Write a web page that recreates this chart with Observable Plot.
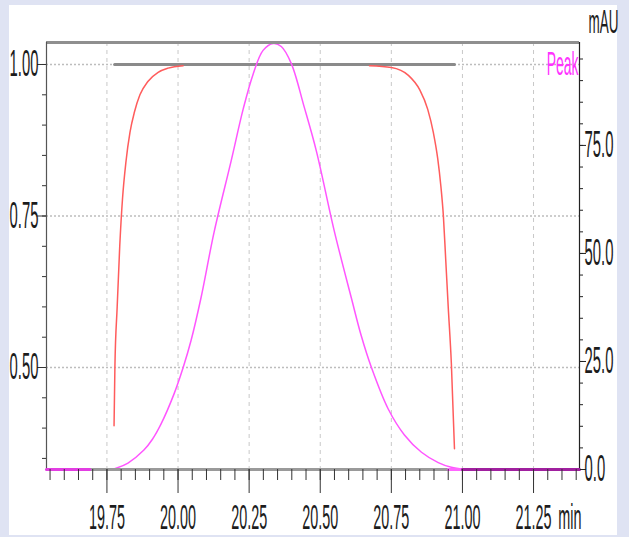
<!DOCTYPE html>
<html><head><meta charset="utf-8">
<script src="https://cdn.jsdelivr.net/npm/d3@7"></script>
<script src="https://cdn.jsdelivr.net/npm/@observablehq/plot@0.6"></script>
<style>
html,body{margin:0;padding:0;background:#dfe3f3;width:629px;height:537px;overflow:hidden}
#panel{position:absolute;left:9px;top:5px;width:608px;height:530px;background:#fff}
#chart{position:absolute;left:0;top:0}
</style></head><body><div id="panel"></div><div id="chart"></div>
<script>
// ---- axes / ticks ----
const xDomain = [19.5375, 21.4116];          // min
const yDomain = [0.3317, 1.0363];            // left axis (ratio)
const mauToLeft = 0.00713;                   // left-axis units per mAU
const xMajor = [19.75, 20.00, 20.25, 20.50, 20.75, 21.00, 21.25];
const xMajorLabels = ["19.75", "20.00", "20.25", "20.50", "20.75", "21.00", "21.25"];
const xMinor = d3.range(0, 38).map(i => +(19.55 + i * 0.05).toFixed(2));
const yMajor = [0.50, 0.75, 1.00];
const yMajorLabels = ["0.50", "0.75", "1.00"];
const yMinor = d3.range(0, 14).map(i => +(0.35 + i * 0.05).toFixed(2));
const mauMajor = [0, 25, 50, 75];
const mauMajorLabels = ["0.0", "25.0", "50.0", "75.0"];
const mauMinor = d3.range(0, 20).map(i => i * 5);

// ---- data ----
// red ratio trace (left axis), two fragments
const redLeftT = [19.775, 19.778, 19.786, 19.795, 19.805, 19.817, 19.831, 19.847, 19.866, 19.894, 19.930, 19.965, 20.018];
const redLeftV = [0.404, 0.500, 0.600, 0.700, 0.780, 0.840, 0.888, 0.922, 0.950, 0.972, 0.987, 0.994, 0.998];
const redRightT = [20.673, 20.750, 20.810, 20.850, 20.878, 20.898, 20.913, 20.924, 20.933, 20.941, 20.950, 20.961, 20.972];
const redRightV = [0.998, 0.995, 0.982, 0.958, 0.926, 0.887, 0.845, 0.800, 0.750, 0.680, 0.600, 0.507, 0.366];
// grey level line (left axis)
const levelT = [19.777, 20.972];
const levelV = [1.00, 1.00];
// magenta peak (mAU, right axis)
const peakT = [19.764, 19.782, 19.824, 19.880, 19.910, 19.940, 19.986, 20.018, 20.046, 20.081, 20.127, 20.187, 20.229, 20.264, 20.299, 20.335, 20.363, 20.398, 20.444, 20.486, 20.549, 20.609, 20.644, 20.680, 20.739, 20.796, 20.856, 20.915, 20.961, 21.004];
const peakMAU = [0, 0.3, 1.5, 4.5, 7.0, 10.5, 17.5, 23.6, 29.9, 39.8, 55.0, 71.5, 83.4, 91.5, 97.0, 98.6, 97.9, 94.0, 83.8, 73.8, 55.3, 39.8, 31.0, 23.6, 14.0, 8.0, 4.0, 1.6, 0.5, 0];
// baseline pieces (mAU)
const baseLeftT = [19.5375, 19.690];
const baseEndT = [20.950, 21.000];
const baseRightT = [21.000, 21.4116];
const baseMAU = [0, 0];

const zip = (T, V) => T.map((t, i) => ({t, v: V[i]}));
const toLeft = m => yDomain[0] + m * mauToLeft;

const redLeft = zip(redLeftT, redLeftV);
const redRight = zip(redRightT, redRightV);
const level = zip(levelT, levelV);
const peak = zip(peakT, peakMAU.map(toLeft));
const baseLeft = zip(baseLeftT, baseMAU.map(toLeft));
const baseEnd = zip(baseEndT, baseMAU.map(toLeft));
const baseRight = zip(baseRightT, baseMAU.map(toLeft));

const ink = "#1c1c1c";
const tick = {tickFormat: () => "", label: null};
const chart = Plot.plot({
  width: 629, height: 537,
  marginLeft: 46, marginRight: 50, marginTop: 42, marginBottom: 68,
  style: {fontFamily: "'Liberation Sans', Arial, sans-serif", background: "transparent", overflow: "visible"},
  x: {domain: xDomain, axis: null},
  y: {domain: yDomain, axis: null},
  marks: [
    Plot.gridX({ticks: xMajor, stroke: "#c8c8c8", strokeOpacity: 1, strokeDasharray: "4,4"}),
    Plot.gridY({ticks: yMajor, stroke: "#bdbdbd", strokeOpacity: 1, strokeDasharray: "2,2", strokeWidth: 1.5}),
    Plot.line(level, {x: "t", y: "v", stroke: "#8a8a8a", strokeWidth: 3}),
    Plot.line(redLeft, {x: "t", y: "v", stroke: "#ff5c5c", strokeWidth: 1.5, curve: "monotone-x"}),
    Plot.line(redRight, {x: "t", y: "v", stroke: "#ff5c5c", strokeWidth: 1.5, curve: "monotone-x"}),
    Plot.line(peak, {x: "t", y: "v", stroke: "#ff55ff", strokeWidth: 1.5, curve: "catmull-rom"}),
    // frame
    Plot.ruleY([yDomain[1]], {stroke: "#8f8f8f", strokeWidth: 3}),
    Plot.ruleY([yDomain[0]], {stroke: "#9a9a9a", strokeWidth: 3}),
    Plot.ruleX([xDomain[0]], {stroke: "#555", strokeWidth: 1.2}),
    Plot.ruleX([xDomain[1]], {stroke: "#222", strokeWidth: 1.2}),
    Plot.line(baseLeft, {x: "t", y: "v", stroke: "#e23ee2", strokeWidth: 3}),
    Plot.line(baseEnd, {x: "t", y: "v", stroke: "#ff66ff", strokeWidth: 3}),
    Plot.line(baseRight, {x: "t", y: "v", stroke: "#a0209f", strokeWidth: 3}),
    // ticks
    Plot.axisX({ticks: xMinor, anchor: "bottom", tickSize: 11, stroke: "#333", ...tick}),
    Plot.axisX({ticks: xMajor, anchor: "bottom", tickSize: 24, stroke: "#333", ...tick}),
    Plot.axisY({ticks: yMinor, anchor: "left", tickSize: 4, stroke: "#333", ...tick}),
    Plot.axisY({ticks: yMajor, anchor: "left", tickSize: 9, stroke: "#333", ...tick}),
    Plot.axisY({ticks: mauMinor.map(toLeft), anchor: "right", tickSize: 3, stroke: "#222", ...tick}),
    Plot.axisY({ticks: mauMajor.map(toLeft), anchor: "right", tickSize: 6, stroke: "#222", ...tick}),
    // labels
    Plot.text(xMajor, {x: d => d, text: (d, i) => xMajorLabels[i], frameAnchor: "bottom", lineAnchor: "middle", dy: 48, fontSize: 32, fill: ink}),
    Plot.text(["min"], {frameAnchor: "bottom-right", lineAnchor: "middle", dy: 48, dx: 2, textAnchor: "end", fontSize: 32, fill: ink}),
    Plot.text(yMajor, {y: d => d, text: (d, i) => yMajorLabels[i], frameAnchor: "left", lineAnchor: "middle", dx: -8, textAnchor: "end", fontSize: 33, fill: ink}),
    Plot.text(mauMajor, {y: d => toLeft(d), text: (d, i) => mauMajorLabels[i], frameAnchor: "right", lineAnchor: "middle", dx: 5, textAnchor: "start", fontSize: 33, fill: ink}),
    Plot.text(["mAU"], {frameAnchor: "top-right", lineAnchor: "middle", dx: 9, dy: -20, textAnchor: "start", fontSize: 30, fill: ink}),
    Plot.text(["Peak"], {frameAnchor: "top-right", lineAnchor: "middle", dx: -1, dy: 22, textAnchor: "end", fontSize: 31, fill: "#ff33ff"})
  ]
});
// condensed look of the original labels
chart.querySelectorAll("text").forEach(t => {
  if (!t.textContent) { t.remove(); return; }
  let tr = t.getAttribute("transform");
  if (!tr) {
    const x = t.getAttribute("x") || 0, y = t.getAttribute("y") || 0;
    t.removeAttribute("x"); t.removeAttribute("y");
    tr = `translate(${x},${y})`;
  }
  t.setAttribute("transform", tr + " scale(0.45,1.1)");
});
document.getElementById("chart").appendChild(chart);
</script></body></html>
